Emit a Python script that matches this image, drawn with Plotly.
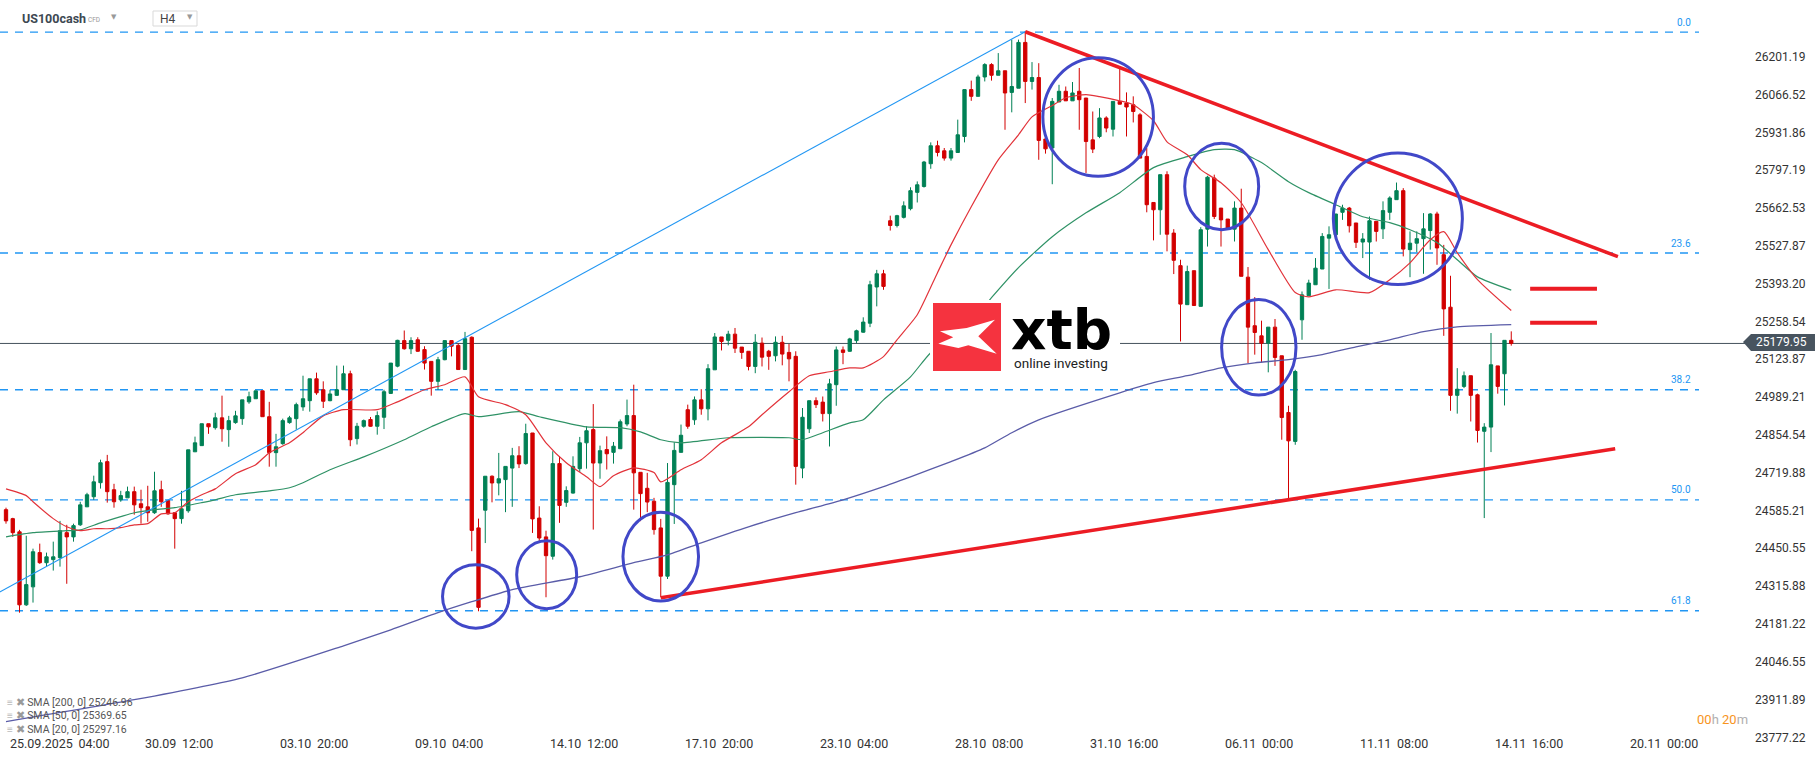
import plotly.graph_objects as go

# ---------------- data (H4 candles, index 0 = 25.09.2025 04:00) ----------------
opens = [24588, 24556, 24509, 24249, 24313, 24435, 24399, 24410, 24417, 24506,
         24491, 24534, 24598, 24634, 24684, 24759, 24659, 24623, 24630, 24652,
         24609, 24598, 24577, 24659, 24620, 24577, 24556, 24584, 24794, 24816,
         24894, 24880, 24915, 24873, 24898, 24912, 24972, 24983, 25011, 24919,
         24791, 24823, 24898, 24912, 24954, 24976, 25054, 25015, 24976, 24995,
         25015, 25072, 24841, 24885, 24909, 24885, 24917, 25002, 25099, 25190,
         25161, 25193, 25158, 25116, 25045, 25122, 25190, 25173, 25087, 25202,
         24523, 24586, 24707, 24683, 24695, 24736, 24780, 24752, 24861, 24558,
         24491, 24422, 24752, 24614, 24647, 24734, 24826, 24873, 24754, 24802,
         24792, 24805, 24893, 24923, 24721, 24664, 24618, 24523, 24351, 24677,
         24792, 24944, 24908, 24979, 24947, 25086, 25203, 25191, 25213, 25167,
         25152, 25098, 25181, 25152, 25136, 25184, 25148, 25134, 24736, 24876,
         24976, 24971, 24930, 25033, 25157, 25152, 25190, 25220, 25252, 25381,
         25428, 25617, 25600, 25629, 25660, 25718, 25739, 25820, 25884, 25866,
         25840, 25860, 25917, 26084, 26060, 26129, 26173, 26135, 26151, 26074,
         26089, 26252, 26113, 26127, 25908, 25876, 26040, 26078, 26044, 26078,
         26054, 25905, 25917, 25983, 25943, 26042, 26036, 26030, 25994, 25846,
         25682, 25656, 25781, 25573, 25457, 25318, 25439, 25312, 25587, 25769,
         25662, 25623, 25587, 25662, 25416, 25243, 25207, 25181, 25238, 25136,
         24934, 24831, 25264, 25350, 25389, 25445, 25555, 25567, 25647, 25662,
         25609, 25541, 25541, 25615, 25588, 25647, 25692, 25724, 25514, 25537,
         25553, 25582, 25641, 25496, 25309, 24995, 25027, 25065, 24997, 24867,
         24882, 25100, 25072, 25191]
highs = [24595, 24559, 24516, 24495, 24449, 24467, 24435, 24474, 24548, 24534,
         24538, 24616, 24648, 24709, 24766, 24783, 24680, 24655, 24670, 24670,
         24659, 24673, 24723, 24691, 24620, 24577, 24655, 24801, 24848, 24894,
         24894, 24933, 24994, 24922, 24940, 24979, 25008, 25011, 25011, 24972,
         24858, 24912, 24922, 24969, 25065, 25054, 25076, 25045, 25015, 25101,
         25101, 25083, 24897, 24909, 24918, 24938, 25015, 25110, 25193, 25226,
         25202, 25202, 25170, 25116, 25132, 25190, 25190, 25180, 25221, 25205,
         24556, 24707, 24710, 24790, 24742, 24808, 24814, 24894, 24861, 24600,
         24513, 24796, 24778, 24671, 24778, 24847, 24885, 24964, 24816, 24849,
         24829, 24909, 24980, 25033, 24721, 24719, 24630, 24555, 24754, 24828,
         24891, 24962, 24991, 25017, 25106, 25217, 25203, 25225, 25235, 25167,
         25152, 25213, 25201, 25157, 25205, 25207, 25178, 25152, 24950, 24976,
         24988, 24991, 25054, 25169, 25169, 25200, 25229, 25273, 25403, 25442,
         25442, 25635, 25638, 25686, 25736, 25757, 25830, 25896, 25902, 25876,
         25876, 25977, 26084, 26116, 26137, 26178, 26178, 26214, 26151, 26262,
         26262, 26291, 26182, 26178, 25929, 26054, 26101, 26095, 26111, 26161,
         26054, 26006, 26018, 25989, 26042, 26167, 26074, 26060, 26000, 25876,
         25682, 25781, 25793, 25587, 25478, 25457, 25439, 25594, 25777, 25781,
         25662, 25623, 25686, 25731, 25452, 25345, 25261, 25238, 25267, 25136,
         24958, 25086, 25365, 25407, 25484, 25573, 25597, 25641, 25674, 25666,
         25609, 25573, 25632, 25615, 25686, 25704, 25753, 25733, 25579, 25579,
         25644, 25644, 25649, 25531, 25421, 25092, 25080, 25065, 25001, 24896,
         25217, 25100, 25191, 25223]
lows = [24538, 24491, 24221, 24245, 24257, 24395, 24385, 24371, 24385, 24324,
        24474, 24530, 24598, 24623, 24663, 24613, 24595, 24616, 24630, 24570,
        24538, 24545, 24573, 24598, 24570, 24449, 24538, 24577, 24794, 24816,
        24858, 24873, 24830, 24812, 24894, 24890, 24965, 24983, 24919, 24741,
        24741, 24819, 24894, 24873, 24940, 24937, 24997, 24950, 24974, 24995,
        25015, 24814, 24820, 24880, 24883, 24855, 24875, 25000, 25095, 25158,
        25142, 25150, 25087, 24994, 25015, 25120, 25134, 25087, 25087, 24440,
        24226, 24469, 24614, 24639, 24579, 24598, 24736, 24748, 24505, 24469,
        24276, 24410, 24541, 24598, 24645, 24722, 24734, 24517, 24698, 24731,
        24752, 24805, 24885, 24588, 24547, 24579, 24499, 24276, 24341, 24537,
        24792, 24876, 24890, 24926, 24906, 25086, 25155, 25173, 25146, 25125,
        25084, 25074, 25098, 25086, 25116, 25102, 25045, 24677, 24700, 24861,
        24950, 24902, 24813, 24958, 25106, 25150, 25181, 25218, 25238, 25312,
        25371, 25582, 25593, 25625, 25654, 25682, 25735, 25802, 25846, 25831,
        25831, 25860, 25896, 26044, 26060, 26113, 26116, 26135, 25941, 26003,
        26089, 26036, 26084, 25834, 25856, 25747, 26040, 26044, 26044, 25941,
        25787, 25858, 25911, 25932, 25917, 26032, 25917, 25967, 25840, 25647,
        25547, 25567, 25508, 25427, 25187, 25318, 25315, 25312, 25525, 25623,
        25525, 25585, 25543, 25419, 25110, 25140, 25112, 25077, 25100, 24837,
        24623, 24819, 25193, 25350, 25389, 25445, 25374, 25567, 25620, 25575,
        25520, 25484, 25407, 25543, 25552, 25620, 25692, 25490, 25416, 25505,
        25428, 25514, 25460, 25207, 24940, 24930, 25021, 24902, 24827, 24558,
        24793, 25001, 24959, 25172]
closes = [24548, 24506, 24249, 24321, 24438, 24399, 24420, 24420, 24513, 24491,
          24531, 24605, 24641, 24687, 24755, 24652, 24616, 24638, 24652, 24605,
          24595, 24577, 24655, 24616, 24573, 24556, 24591, 24801, 24826, 24894,
          24883, 24915, 24876, 24905, 24922, 24979, 24990, 25011, 24919, 24791,
          24812, 24905, 24915, 24962, 24983, 25054, 25004, 24974, 25000, 25015,
          25072, 24837, 24885, 24905, 24885, 24923, 25008, 25110, 25191, 25161,
          25190, 25152, 25110, 25045, 25122, 25190, 25170, 25087, 25197, 24514,
          24240, 24707, 24683, 24698, 24742, 24780, 24751, 24859, 24555, 24487,
          24424, 24752, 24603, 24656, 24742, 24826, 24869, 24754, 24798, 24787,
          24814, 24901, 24923, 24719, 24645, 24615, 24517, 24351, 24685, 24799,
          24853, 24885, 24979, 24947, 25090, 25203, 25187, 25213, 25163, 25148,
          25098, 25184, 25131, 25134, 25184, 25142, 25125, 24742, 24917, 24976,
          24962, 24930, 25036, 25157, 25148, 25196, 25225, 25256, 25389, 25428,
          25383, 25600, 25635, 25670, 25724, 25745, 25826, 25884, 25860, 25840,
          25866, 25923, 26084, 26060, 26129, 26173, 26135, 26151, 26072, 26095,
          26252, 26113, 26127, 25903, 25873, 26042, 26078, 26044, 26072, 26048,
          25899, 25872, 25983, 25947, 26042, 26032, 26022, 26006, 25840, 25674,
          25656, 25781, 25569, 25476, 25320, 25436, 25315, 25585, 25772, 25632,
          25620, 25591, 25662, 25419, 25238, 25219, 25181, 25238, 25130, 24916,
          24833, 25080, 25353, 25395, 25448, 25561, 25567, 25641, 25662, 25599,
          25540, 25552, 25617, 25579, 25653, 25698, 25724, 25516, 25537, 25553,
          25588, 25641, 25520, 25303, 24995, 25017, 25065, 24995, 24870, 24882,
          25104, 25027, 25191, 25180]
candle_idx = list(range(len(opens)))

x_tick_idx = [0, 20, 40, 60, 80, 100, 120, 140, 160, 180, 200, 220, 240]
x_tick_labels = ["25.09.2025 \u200904:00", "30.09 \u200912:00", "03.10 \u200920:00",
                 "09.10 \u200904:00", "14.10 \u200912:00", "17.10 \u200920:00",
                 "23.10 \u200904:00", "28.10 \u200908:00", "31.10 \u200916:00",
                 "06.11 \u200900:00", "11.11 \u200908:00", "14.11 \u200916:00",
                 "20.11 \u200900:00"]

y_tick_vals = [26201.19, 26066.52, 25931.86, 25797.19, 25662.53, 25527.87, 25393.20,
               25258.54, 25123.87, 24989.21, 24854.54, 24719.88, 24585.21, 24450.55,
               24315.88, 24181.22, 24046.55, 23911.89, 23777.22]

sma20_idx = [0, 3, 4, 7, 9, 11, 13, 15, 17, 19, 21, 23, 25, 27, 29, 31, 34, 37, 39, 42,
             44, 47, 50, 55, 58, 62, 65, 68, 70, 74, 77, 80, 83, 86, 88, 90, 93, 96, 97, 100,
             103, 106, 110, 112, 116, 119, 122, 125, 127, 130, 132, 135, 138, 140, 143,
             147, 150, 152, 155, 157, 160, 162, 165, 167, 170, 172, 175, 177, 180, 183,
             187, 191, 193, 197, 202, 205, 208, 211, 213, 215, 218, 223]
sma20_val = [24662, 24638, 24616, 24556, 24527, 24513, 24520, 24520, 24524, 24534,
             24538, 24573, 24577, 24616, 24641, 24662, 24716, 24748, 24791, 24826,
             24862, 24922, 24944, 24944, 24972, 25015, 25033, 25061, 24990, 24962,
             24926, 24826, 24755, 24705, 24670, 24709, 24737, 24720, 24687, 24730,
             24766, 24826, 24883, 24926, 25008, 25065, 25079, 25093, 25093, 25133,
             25193, 25282, 25432, 25531, 25667, 25834, 25923, 25987, 26027, 26055,
             26066, 26059, 26044, 26030, 25973, 25898, 25852, 25799, 25752, 25681,
             25514, 25361, 25346, 25371, 25361, 25407, 25467, 25549, 25578, 25503,
             25407, 25297]
sma50_idx = [0, 4, 9, 11, 14, 17, 19, 22, 25, 29, 31, 34, 39, 42, 44, 48, 53, 59, 63, 68,
             70, 76, 79, 86, 91, 94, 97, 100, 107, 116, 118, 121, 125, 127, 130, 134, 137,
             142, 146, 150, 155, 160, 165, 170, 175, 179, 182, 186, 190, 193, 197, 201,
             205, 208, 212, 215, 218, 223]
sma50_val = [24491, 24506, 24513, 24516, 24541, 24563, 24577, 24588, 24595, 24613,
             24623, 24641, 24655, 24666, 24684, 24730, 24776, 24837, 24883, 24930,
             24919, 24937, 24919, 24883, 24880, 24865, 24837, 24826, 24844, 24844,
             24837, 24862, 24897, 24908, 24979, 25061, 25147, 25229, 25343, 25450,
             25560, 25645, 25717, 25806, 25845, 25870, 25870, 25824, 25756, 25717,
             25674, 25631, 25610, 25585, 25539, 25478, 25417, 25370]
sma200_idx = [0, 19, 35, 50, 57, 64, 69, 75, 85, 93, 98, 103, 110, 117, 124, 130, 134,
              140, 145, 149, 153, 165, 170, 175, 180, 185, 190, 195, 200, 205, 210, 215, 223]
sma200_val = [23833, 23911, 23989, 24103, 24160, 24221, 24260, 24303, 24349, 24399,
              24427, 24470, 24527, 24577, 24623, 24670, 24705, 24759, 24808, 24862,
              24908, 25004, 25040, 25065, 25093, 25111, 25122, 25140, 25168, 25193,
              25222, 25239, 25247]

sma_legend_names = ["SMA [200, 0]", "SMA [50, 0]", "SMA [20, 0]"]
sma_legend_values = [25246.96, 25369.65, 25297.16]

fib_labels = ["0.0", "23.6", "38.2", "50.0", "61.8"]
fib_prices = [26289, 25502, 25015, 24623, 24228]

last_price = 25179.95

blue_trend_idx = [-1, 151]
blue_trend_price = [24294, 26290]
red_down_idx = [151, 238.8]
red_down_price = [26290, 25489]
red_up_idx = [97, 238.4]
red_up_price = [24274, 24805]
target_idx = [225.8, 235.7]
target_prices = [25375, 25254]

circle_idx = [69.6, 80.1, 97.0, 161.8, 180.1, 185.6, 206.2]
circle_price = [24279, 24356, 24421, 25986, 25739, 25166, 25624]
circle_rx = [4.93, 4.44, 5.6, 8.19, 5.48, 5.51, 9.56]
circle_ry = [113, 121, 158, 211, 154, 170, 234]

# ---------------- layout geometry ----------------
W, H = 1815, 761
PLOT_W = 1745
X_RANGE = [-0.89, 257.63]
Y_RANGE = [23692.8, 26403.1]

GREEN = "#008055"
RED = "#d20000"
FIB = "#2196f3"
TREND_RED = "#ec1c24"
CIRCLE = "#4148c8"


def PX(x):
    return x / PLOT_W


def PY(y):
    return 1 - y / H


fig = go.Figure()

fig.add_trace(go.Candlestick(
    x=candle_idx, open=opens, high=highs, low=lows, close=closes,
    increasing=dict(line=dict(color=GREEN, width=1), fillcolor=GREEN),
    decreasing=dict(line=dict(color=RED, width=1), fillcolor=RED),
    whiskerwidth=0, hoverinfo="skip", showlegend=False))

fig.add_trace(go.Scatter(x=sma200_idx, y=sma200_val, mode="lines",
                         line=dict(color="#5a5ca8", width=1.3, shape="spline", smoothing=0.6),
                         hoverinfo="skip", showlegend=False))
fig.add_trace(go.Scatter(x=sma50_idx, y=sma50_val, mode="lines",
                         line=dict(color="#2f9266", width=1.2, shape="spline", smoothing=0.6),
                         hoverinfo="skip", showlegend=False))
fig.add_trace(go.Scatter(x=sma20_idx, y=sma20_val, mode="lines",
                         line=dict(color="#e2333a", width=1.2, shape="spline", smoothing=0.6),
                         hoverinfo="skip", showlegend=False))

fig.add_trace(go.Scatter(x=blue_trend_idx, y=blue_trend_price, mode="lines",
                         line=dict(color=FIB, width=1.1), hoverinfo="skip", showlegend=False))
fig.add_trace(go.Scatter(x=red_down_idx, y=red_down_price, mode="lines",
                         line=dict(color=TREND_RED, width=3.5), hoverinfo="skip", showlegend=False))
fig.add_trace(go.Scatter(x=red_up_idx, y=red_up_price, mode="lines",
                         line=dict(color=TREND_RED, width=3.5), hoverinfo="skip", showlegend=False))
for tp in target_prices:
    fig.add_trace(go.Scatter(x=target_idx, y=[tp, tp], mode="lines",
                             line=dict(color=TREND_RED, width=4), hoverinfo="skip",
                             showlegend=False))

shapes = []
# fibonacci levels
for fp in fib_prices:
    shapes.append(dict(type="line", xref="paper", yref="y", x0=0, x1=PX(1699), y0=fp, y1=fp,
                       line=dict(color=FIB, width=1.3, dash="8px,7px"), layer="below"))
# last price line
shapes.append(dict(type="line", xref="paper", yref="y", x0=0, x1=1, y0=last_price, y1=last_price,
                   line=dict(color="#45515c", width=1), layer="below"))
# highlight circles
for cx, cy, rx, ry in zip(circle_idx, circle_price, circle_rx, circle_ry):
    shapes.append(dict(type="circle", xref="x", yref="y", x0=cx - rx, x1=cx + rx,
                       y0=cy - ry, y1=cy + ry, line=dict(color=CIRCLE, width=3),
                       fillcolor="rgba(0,0,0,0)", layer="above"))
# logo
shapes.append(dict(type="rect", xref="paper", yref="paper", x0=PX(930), x1=PX(1120),
                   y0=PY(376), y1=PY(300), fillcolor="white", line=dict(width=0), layer="above"))
shapes.append(dict(type="rect", xref="paper", yref="paper", x0=PX(933), x1=PX(1001),
                   y0=PY(371), y1=PY(303), fillcolor="#f5333f", line=dict(width=0), layer="above"))
xpts = [(940, 331.3), (966.7, 328), (995, 319.7), (978.3, 336.3), (996.7, 353.7),
        (968.3, 345.3), (958.3, 348), (938.3, 343.7), (953.3, 337.3)]
path = "M " + " L ".join(f"{PX(a):.5f},{PY(b):.5f}" for a, b in xpts) + " Z"
shapes.append(dict(type="path", xref="paper", yref="paper", path=path, fillcolor="white",
                   line=dict(width=0), layer="above"))
# price tag
tag = [(1743, 342), (1751, 334), (1815, 334), (1815, 351), (1751, 351)]
tpath = "M " + " L ".join(f"{PX(a):.5f},{PY(b):.5f}" for a, b in tag) + " Z"
shapes.append(dict(type="path", xref="paper", yref="paper", path=tpath, fillcolor="#48545f",
                   line=dict(width=0), layer="above"))
# H4 box
shapes.append(dict(type="rect", xref="paper", yref="paper", x0=PX(153), x1=PX(197),
                   y0=PY(26), y1=PY(11), fillcolor="white",
                   line=dict(color="#d9d9d9", width=1), layer="above"))

ann = []
# x labels
for ti, tl in zip(x_tick_idx, x_tick_labels):
    ann.append(dict(x=ti, xref="x", y=PY(743), yref="paper", text=tl, showarrow=False,
                    xanchor="left", yanchor="middle", xshift=2,
                    font=dict(family="Roboto", size=12.5, color="#333333")))
# fib labels
for fl, fp in zip(fib_labels, fib_prices):
    ann.append(dict(x=PX(1693), xref="paper", y=fp, yref="y", text=fl, showarrow=False,
                    xanchor="right", yanchor="middle", yshift=10,
                    font=dict(family="Roboto", size=10, color=FIB)))
# price tag text
ann.append(dict(x=PX(1754), xref="paper", y=PY(342.5), yref="paper", text=f"{last_price:.2f}",
                showarrow=False, xanchor="left", yanchor="middle",
                font=dict(family="Roboto", size=12, color="white")))
# countdown
ann.append(dict(x=PX(1750), xref="paper", y=PY(719), yref="paper",
                text='<span style="color:#f7941d">00</span><span style="color:#b0b0b0">h </span>'
                     '<span style="color:#f7941d">20</span><span style="color:#b0b0b0">m</span>',
                showarrow=False, xanchor="right", yanchor="middle",
                font=dict(family="Roboto", size=13)))
# SMA legend
for k, (nm, val) in enumerate(zip(sma_legend_names, sma_legend_values)):
    ann.append(dict(x=PX(5), xref="paper", y=PY(702 + 13.5 * k), yref="paper",
                    text=f'<span style="color:#9a9a9a">\u2261 \u2716</span> SMA{nm[3:]} {val:.2f}',
                    showarrow=False, xanchor="left", yanchor="middle",
                    font=dict(family="Roboto", size=10.5, color="#555555")))
# header
ann.append(dict(x=PX(20), xref="paper", y=PY(18.5), yref="paper", text="<b>US100cash</b>",
                showarrow=False, xanchor="left", yanchor="middle",
                font=dict(family="Roboto", size=12.5, color="#3d4852")))
ann.append(dict(x=PX(86), xref="paper", y=PY(19.5), yref="paper", text="CFD",
                showarrow=False, xanchor="left", yanchor="middle",
                font=dict(family="Roboto", size=6.5, color="#999999")))
ann.append(dict(x=PX(109), xref="paper", y=PY(16.5), yref="paper", text="\u25bc",
                showarrow=False, xanchor="left", yanchor="middle",
                font=dict(family="DejaVu Sans", size=7, color="#999999")))
ann.append(dict(x=PX(158), xref="paper", y=PY(19), yref="paper", text="H4",
                showarrow=False, xanchor="left", yanchor="middle",
                font=dict(family="Roboto", size=12, color="#444444")))
ann.append(dict(x=PX(185), xref="paper", y=PY(17), yref="paper", text="\u25bc",
                showarrow=False, xanchor="left", yanchor="middle",
                font=dict(family="DejaVu Sans", size=7, color="#999999")))
# logo text
ann.append(dict(x=PX(1009), xref="paper", y=PY(330), yref="paper", text="<b>xtb</b>",
                showarrow=False, xanchor="left", yanchor="middle",
                font=dict(family="DejaVu Sans", size=55, color="#000000")))
ann.append(dict(x=PX(1012), xref="paper", y=PY(363), yref="paper", text="online investing",
                showarrow=False, xanchor="left", yanchor="middle",
                font=dict(family="Roboto", size=13.5, color="#222222")))

fig.update_layout(
    width=W, height=H,
    margin=dict(l=0, r=W - PLOT_W, t=0, b=0, autoexpand=False),
    paper_bgcolor="white", plot_bgcolor="white",
    showlegend=False, boxgap=0.3,
    shapes=shapes, annotations=ann,
    xaxis=dict(range=X_RANGE, showgrid=False, zeroline=False, showticklabels=False,
               showline=False, ticks="", rangeslider=dict(visible=False), fixedrange=True,
               automargin=False),
    yaxis=dict(range=Y_RANGE, side="right", tickvals=y_tick_vals,
               ticktext=[f"{v:.2f}" for v in y_tick_vals], showgrid=False, zeroline=False,
               showline=False, ticks="", ticklabelstandoff=9, automargin=False,
               tickfont=dict(family="Roboto", size=12, color="#333333"), fixedrange=True),
)

fig.write_html("out.html", config={"displayModeBar": False},
               post_script="document.body.style.margin='0px';document.body.style.overflow='hidden';")
